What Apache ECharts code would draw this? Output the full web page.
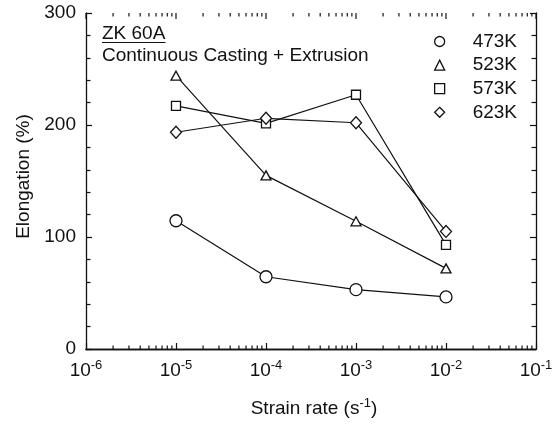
<!DOCTYPE html>
<html>
<head>
<meta charset="utf-8">
<script src="https://cdn.jsdelivr.net/npm/echarts@6/dist/echarts.min.js"></script>
<style>
html,body{margin:0;padding:0;background:#fff;}
#c{width:557px;height:424px;}
</style>
</head>
<body>
<div id="c"></div>
<script>
// ---- data ----
var strainRates = [1e-5, 1e-4, 1e-3, 1e-2];
var seriesNames = ['473K', '523K', '573K', '623K'];
var elong473 = [114.5, 64.5, 53, 46.5];
var elong523 = [244, 155, 114, 72];
var elong573 = [217, 201.5, 227, 93];
var elong623 = [193.5, 206, 202, 105];
var xTickExponents = [-6, -5, -4, -3, -2, -1];
var yTicks = [0, 100, 200, 300];
var minorDecades = [-6, -5, -4, -3, -2];
var minorMultipliers = [2, 3, 4, 5, 6, 7, 8, 9];

var FONT = '"Liberation Sans", Arial, sans-serif';
var chart = echarts.init(document.getElementById('c'));

function pairs(vals) {
  return strainRates.map(function (x, i) { return [x, vals[i]]; });
}
var tickData = [];
minorDecades.forEach(function (d) {
  minorMultipliers.forEach(function (m) { tickData.push([m * Math.pow(10, d), 0]); });
});
xTickExponents.forEach(function (e) { tickData.push([Math.pow(10, e), 1]); });

var markStyle = { color: '#fff', borderColor: '#111', borderWidth: 1.3 };
var lineStyle = { color: '#111', width: 1.2 };
function mkSeries(name, vals, symbol, size) {
  return {
    type: 'line', name: name, data: pairs(vals),
    symbol: symbol, symbolSize: size, showAllSymbol: true,
    itemStyle: markStyle, lineStyle: lineStyle,
    emphasis: { disabled: true }, animation: false, z: 3
  };
}

var xLabelRich = {
  b: { fontSize: 19, fontFamily: FONT, color: '#111' },
  s: { fontSize: 13, fontFamily: FONT, color: '#111', padding: [0, 0, 10, 0] }
};

chart.setOption({
  animation: false,
  backgroundColor: '#fff',
  grid: { left: 86, right: 21, top: 13, bottom: 75, show: false },
  legend: {
    orient: 'vertical', left: 429, top: 27,
    itemWidth: 10, itemHeight: 10, itemGap: 4.6,
    selectedMode: false,
    textStyle: { fontSize: 19, fontFamily: FONT, color: '#111', lineHeight: 19, padding: [0, 0, 0, 23] },
    itemStyle: { color: '#fff', borderColor: '#111', borderWidth: 1.3 },
    data: [
      { name: seriesNames[0], icon: 'circle' },
      { name: seriesNames[1], icon: 'triangle' },
      { name: seriesNames[2], icon: 'rect' },
      { name: seriesNames[3], icon: 'diamond' }
    ]
  },
  xAxis: [{
    type: 'log', logBase: 10, min: 1e-6, max: 1e-1, interval: 1,
    position: 'bottom',
    name: 'Strain rate (s{s|-1})', nameLocation: 'middle', nameGap: 48,
    nameTextStyle: {
      fontSize: 19, fontFamily: FONT, color: '#111', padding: [0, 0, 0, 6],
      rich: {
        s: { fontSize: 13, fontFamily: FONT, color: '#111', padding: [0, 0, 10, 0] }
      }
    },
    axisLine: { show: true, lineStyle: { color: '#111', width: 1.3 } },
    axisTick: { show: true, inside: true, length: 6, lineStyle: { color: '#111', width: 1.2 } },
    axisLabel: {
      margin: 10,
      formatter: function (v) {
        var e = Math.round(Math.log10(v));
        return '{b|10}{s|' + e + '}';
      },
      rich: xLabelRich
    },
    splitLine: { show: false }
  }, {
    type: 'log', logBase: 10, min: 1e-6, max: 1e-1, interval: 1,
    position: 'top',
    axisLine: { show: true, lineStyle: { color: '#111', width: 1.3 } },
    axisTick: { show: false },
    axisLabel: { show: false },
    splitLine: { show: false }
  }],
  yAxis: [{
    type: 'value', min: 0, max: 300, interval: 100,
    position: 'left',
    name: 'Elongation (%)', nameLocation: 'middle', nameGap: 52,
    nameTextStyle: { fontSize: 19, fontFamily: FONT, color: '#111', padding: [0, 0, 0, 9] },
    axisLine: { show: true, lineStyle: { color: '#111', width: 1.3 } },
    axisTick: { show: true, inside: true, length: 6, lineStyle: { color: '#111', width: 1.2 } },
    minorTick: { show: true, splitNumber: 5, length: 4.5, lineStyle: { color: '#111', width: 1.2 } },
    axisLabel: { margin: 10, fontSize: 19, fontFamily: FONT, color: '#111' },
    splitLine: { show: false }
  }, {
    type: 'value', min: 0, max: 300, interval: 100,
    position: 'right',
    axisLine: { show: true, lineStyle: { color: '#111', width: 1.3 } },
    axisTick: { show: true, inside: true, length: 6, lineStyle: { color: '#111', width: 1.2 } },
    minorTick: { show: true, splitNumber: 5, length: 4.5, lineStyle: { color: '#111', width: 1.2 } },
    axisLabel: { show: false },
    splitLine: { show: false }
  }],
  graphic: [
    { type: 'text', left: 102, top: 24, style: { text: 'ZK 60A', font: '19px ' + FONT, fill: '#111' } },
    { type: 'line', shape: { x1: 102, y1: 42.5, x2: 165.5, y2: 42.5 }, style: { stroke: '#111', lineWidth: 1.2 } },
    { type: 'text', left: 102, top: 46, style: { text: 'Continuous Casting + Extrusion', font: '19px ' + FONT, fill: '#111' } }
  ],
  series: [
    mkSeries(seriesNames[0], elong473, 'circle', 12),
    mkSeries(seriesNames[1], elong523, 'triangle', [10, 9]),
    mkSeries(seriesNames[2], elong573, 'rect', 9),
    mkSeries(seriesNames[3], elong623, 'diamond', [11, 12]),
    {
      type: 'custom', name: 'xTicks', silent: true, clip: false,
      data: tickData, encode: { x: 0 },
      renderItem: function (params, api) {
        var x = api.value(0);
        var major = api.value(1) === 1;
        var pb = api.coord([x, 0]);
        var pt = api.coord([x, 300]);
        var st = { stroke: '#111', lineWidth: 1.2 };
        var kids = [
          { type: 'line', shape: { x1: pt[0], y1: pt[1], x2: pt[0], y2: pt[1] + (major ? 6 : 3.5) }, style: st }
        ];
        if (!major) {
          kids.push({ type: 'line', shape: { x1: pb[0], y1: pb[1], x2: pb[0], y2: pb[1] - 3.5 }, style: st });
        }
        return { type: 'group', children: kids };
      }
    }
  ]
});
</script>
</body>
</html>
